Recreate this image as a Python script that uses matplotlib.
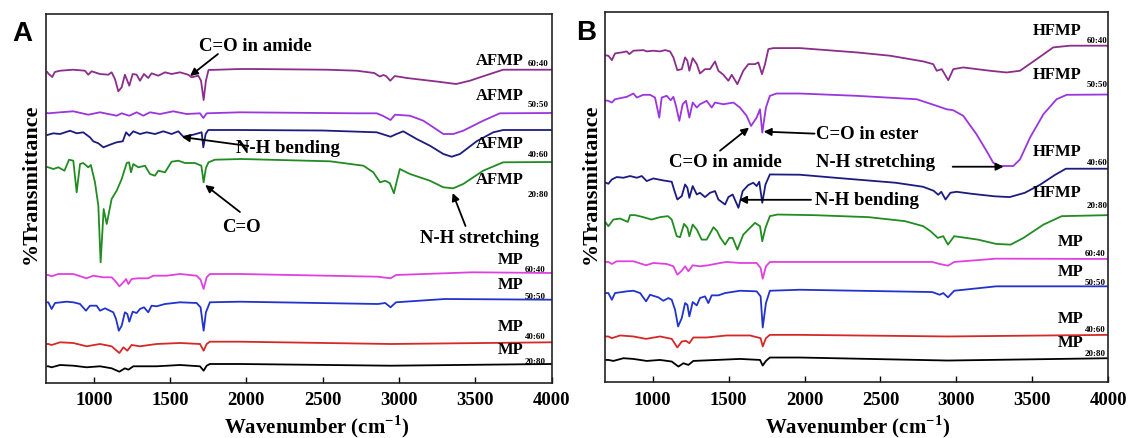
import matplotlib
matplotlib.use("Agg")
import matplotlib.pyplot as plt

plt.rcParams['font.family'] = ['Liberation Serif', 'DejaVu Serif']
plt.rcParams['font.weight'] = 'bold'
plt.rcParams['mathtext.fontset'] = 'custom'
plt.rcParams['mathtext.rm'] = 'Liberation Serif:bold'
plt.rcParams['mathtext.bf'] = 'Liberation Serif:bold'
plt.rcParams['axes.linewidth'] = 1.2

# ---- panel A : AFMP / MP spectra (wavenumber, offset transmittance) ----
a1_wn = [695, 705, 728, 745, 779, 866, 942, 964, 986, 1041, 1095, 1117, 1139, 1161, 1183, 1204, 1233, 1255, 1281,
         1303, 1329, 1357, 1379, 1423, 1467, 1510, 1565, 1619, 1641, 1685, 1703, 1720, 1735, 1752, 1958, 2052, 2529,
         2723, 2838, 2874, 2898, 2915, 2943, 2972, 3052, 3247, 3375, 3465, 3596, 3683, 4000]
a1_t = [311, 309, 306, 311, 312.3, 313.3, 312.3, 308.3, 311.7, 309, 308.3, 310.7, 304, 291.7, 295.7, 308.3, 297.3, 309,
        308.3, 302.3, 309, 305, 309.7, 307.3, 310.7, 309, 310.7, 308.3, 305.7, 307.3, 302.3, 283, 302.3, 313, 314, 314,
        313.3, 312.3, 310, 306.5, 308, 307, 302.3, 307, 305, 301.5, 299, 302.3, 309, 313.3, 313.3]

a2_wn = [695, 702, 779, 866, 964, 1041, 1150, 1183, 1233, 1281, 1325, 1368, 1434, 1521, 1608, 1696, 1718, 1740, 1958,
         2723, 2854, 2893, 2945, 2974, 3072, 3160, 3291, 3356, 3421, 3552, 3661, 4000]
a2_t = [270, 269.7, 270.7, 271.7, 268.3, 270.7, 267.3, 269.7, 267.3, 270.7, 267.3, 270.7, 269, 271.7, 269, 269.7, 265,
        269.7, 270.7, 269.7, 269.7, 267.3, 263, 268.3, 267.3, 262.3, 249, 249, 252.3, 262.3, 269.7, 270]

a3_wn = [695, 702, 735, 779, 844, 888, 931, 975, 997, 1030, 1063, 1106, 1150, 1190, 1212, 1233, 1259, 1303, 1347, 1401,
         1456, 1510, 1554, 1587, 1652, 1707, 1718, 1733, 1750, 1958, 2500, 2854, 2945, 2984, 3028, 3116, 3203, 3291,
         3345, 3400, 3509, 3618, 3683, 4000]
a3_t = [248, 248.3, 249.7, 249, 252.3, 249.7, 250.7, 245.7, 241.7, 239.7, 235.7, 238.3, 240.7, 241.7, 250.7, 247.3,
        251.7, 249, 250.7, 249, 251.7, 249, 251.7, 246.3, 248.3, 250.7, 235.7, 249, 253, 253, 252.5, 250.7, 246.3, 249,
        251.7, 244, 237.3, 229, 226.3, 229, 241.7, 250.7, 253, 253]

a4_wn = [695, 702, 735, 768, 808, 838, 866, 888, 910, 931, 964, 981, 1008, 1030, 1045, 1065, 1085, 1117, 1150, 1183,
         1216, 1231, 1244, 1259, 1292, 1336, 1368, 1401, 1423, 1467, 1510, 1554, 1598, 1663, 1705, 1720, 1735, 1752,
         1794, 1969, 2548, 2767, 2832, 2876, 2910, 2941, 2967, 2984, 3006, 3072, 3203, 3291, 3356, 3421, 3552, 3683,
         4000]
a4_t = [216, 215.7, 214, 215.7, 212.3, 223.3, 222.3, 190.7, 219, 220, 215.7, 218, 200.7, 177.3, 120.7, 174, 159, 184,
        192.3, 204, 220, 220.7, 210.7, 219, 215.7, 217.3, 209, 207.3, 212.3, 210.7, 221.3, 222.3, 220, 220, 217.3,
        200.7, 215, 220.7, 223.3, 224, 221.7, 217.3, 210.7, 200.7, 202.3, 199.7, 189.7, 200.7, 214, 209, 202.3, 195.7,
        194.7, 199, 212.3, 220.7, 221]

a5_wn = [695, 702, 724, 768, 866, 953, 997, 1063, 1117, 1139, 1168, 1194, 1212, 1227, 1248, 1292, 1357, 1390, 1477,
         1565, 1674, 1700, 1720, 1740, 1761, 1958, 2862, 2945, 2981, 3481, 4000]
a5_t = [108, 108, 106.7, 109, 109, 104.7, 107.3, 105.7, 105.7, 102.3, 96.7, 100.7, 104, 99, 104, 104.7, 104.7, 107.3,
        107.3, 109, 107.3, 103.3, 94, 105.7, 109, 109, 106.3, 104.7, 108, 110.7, 110]

a6_wn = [695, 702, 724, 746, 822, 866, 910, 949, 975, 1019, 1041, 1074, 1106, 1128, 1146, 1164, 1183, 1204, 1220, 1233,
         1255, 1281, 1303, 1329, 1357, 1379, 1412, 1467, 1565, 1674, 1700, 1720, 1735, 1761, 1958, 2862, 2910, 2945,
         2981, 3300, 4000]
a6_t = [80.7, 80.7, 74, 80, 81.3, 80.7, 79, 72.3, 77.3, 77.3, 72.3, 74.7, 72.3, 70.7, 64, 52.3, 57.3, 70.7, 69, 61.3,
        71.3, 70, 74, 75.7, 70.7, 77.3, 76.7, 79, 80.7, 80, 75.7, 52.3, 70.7, 80.7, 81.3, 79, 80, 75.7, 80.7, 84, 83.3]

a7_wn = [695, 702, 724, 779, 866, 953, 1041, 1117, 1150, 1168, 1194, 1220, 1248, 1303, 1412, 1565, 1696, 1720, 1740,
         1761, 1958, 2945, 4000]
a7_t = [39, 39, 38, 40.7, 40, 36.7, 39, 36.7, 32.3, 30, 35.7, 32.3, 38, 36.7, 39, 40, 39, 32.3, 39, 41.3, 41.3, 39,
        40.7]

a8_wn = [695, 702, 724, 779, 866, 953, 1041, 1117, 1168, 1204, 1227, 1259, 1412, 1565, 1696, 1720, 1740, 1761, 1958,
         2945, 4000]
a8_t = [16.7, 16.7, 15.7, 18, 17.3, 15.7, 16.7, 14.7, 11.3, 14.7, 13.3, 16.7, 16.7, 18, 16.7, 12.3, 17.3, 19, 19, 17.3,
        19]

# ---- panel B : HFMP / MP spectra ----
b1_wn = [693, 709, 732, 753, 797, 830, 847, 874, 939, 962, 1005, 1049, 1082, 1115, 1137, 1163, 1192, 1214, 1229, 1242,
         1264, 1291, 1312, 1345, 1378, 1411, 1433, 1466, 1499, 1521, 1558, 1597, 1630, 1674, 1696, 1720, 1740, 1762,
         1795, 1970, 2343, 2563, 2782, 2847, 2870, 2903, 2946, 2979, 3045, 3220, 3330, 3418, 3528, 3637, 3747, 4000]
b1_t = [326, 325.7, 321.3, 328, 329, 330, 327.3, 330.7, 331.3, 330, 330.7, 330, 331.3, 330, 324, 311.3, 312.3, 324,
        320.7, 310.7, 323.3, 317.3, 308, 312.3, 312.3, 320, 310.7, 306.7, 300.7, 306.7, 297.3, 310.7, 317.3, 317.3, 319,
        307.3, 317.3, 332.3, 333.3, 333.3, 329, 325.7, 320, 317.3, 310.7, 312.3, 301.3, 312.3, 314, 310.7, 309, 310.7,
        322.3, 334, 335.7, 335.7]

b2_wn = [693, 709, 732, 753, 830, 874, 896, 939, 983, 1016, 1044, 1060, 1093, 1119, 1137, 1154, 1176, 1198, 1220, 1242,
         1264, 1291, 1312, 1356, 1389, 1411, 1466, 1532, 1575, 1619, 1648, 1685, 1707, 1722, 1746, 1772, 1816, 1970,
         2343, 2738, 2870, 2935, 2979, 3045, 3132, 3198, 3242, 3275, 3374, 3418, 3484, 3572, 3659, 3725, 4000]
b2_t = [281, 280.7, 279, 282.3, 284.7, 288, 284, 286.7, 286.7, 284, 264, 284, 285.7, 281.3, 284.7, 275.7, 260.7, 277.3,
        280.7, 264, 279, 274, 277.3, 280.7, 274, 279, 277.3, 279, 274, 265.7, 255.7, 264, 272.3, 249, 274, 285.7, 288,
        288, 285.7, 282.3, 275.7, 272.3, 271.3, 265.7, 247.3, 230.7, 219, 215.7, 215.7, 222.3, 244, 267.3, 282.3, 286.7,
        287]

b3_wn = [693, 709, 732, 764, 808, 852, 896, 929, 961, 1005, 1071, 1126, 1141, 1163, 1192, 1214, 1229, 1242, 1264, 1291,
         1312, 1345, 1378, 1411, 1433, 1477, 1499, 1527, 1565, 1593, 1630, 1663, 1685, 1702, 1722, 1743, 1772, 1970,
         2200, 2600, 2780, 2850, 2880, 2900, 2928, 2960, 3000, 3100, 3250, 3350, 3450, 3550, 3650, 3720, 4000]
b3_t = [199, 198, 202.3, 204.7, 204, 205.7, 204, 205.7, 200.7, 203.3, 201.3, 200, 192.3, 182.3, 185.7, 197.3, 194, 184,
        195.7, 187.3, 189, 184.7, 189, 190.7, 182.3, 177.3, 184.7, 187.3, 174, 190.7, 196.7, 199, 195.7, 200, 179,
        197.3, 207.3, 207, 204, 199, 195, 191, 187, 190, 182.3, 189, 190, 188, 185.5, 184.7, 189, 197, 207, 213, 213]

b4_wn = [693, 709, 742, 786, 837, 852, 885, 939, 993, 1049, 1101, 1126, 1159, 1181, 1207, 1229, 1242, 1264, 1291, 1323,
         1356, 1401, 1425, 1444, 1477, 1505, 1527, 1558, 1597, 1630, 1674, 1707, 1722, 1743, 1772, 1821, 2061, 2421,
         2661, 2781, 2829, 2877, 2913, 2944, 2985, 3141, 3261, 3357, 3441, 3573, 3693, 4000]
b4_t = [159, 155.7, 162.3, 163.3, 160, 166.7, 166.7, 164.7, 162.3, 164.7, 165.7, 162.3, 145.7, 144.7, 158, 154, 145.7,
        157.3, 152.3, 142.3, 142.3, 154.7, 150.7, 144.7, 137.3, 144, 144, 132.3, 147.3, 152.3, 159, 155.7, 140.7, 154,
        165.7, 167.3, 166.7, 164.7, 160.7, 155.7, 150.7, 144, 145.7, 137.3, 145.7, 142.3, 138, 137.3, 144, 157.3, 165.7,
        166.7]

b5_wn = [693, 709, 732, 764, 874, 957, 1005, 1093, 1137, 1163, 1192, 1214, 1236, 1264, 1312, 1367, 1444, 1488, 1575,
         1685, 1711, 1725, 1746, 1772, 1970, 2841, 2889, 2944, 2985, 3261, 4000]
b5_t = [120, 120, 118, 120.7, 120.7, 116.7, 119, 118, 115.7, 107.3, 111.3, 115.7, 110.7, 116.7, 115.7, 116.7, 119, 120,
        119, 119, 114, 103.3, 115.7, 120, 120, 120, 118, 116.3, 120, 123.3, 123]

b6_wn = [693, 709, 732, 753, 830, 874, 918, 957, 983, 1038, 1071, 1104, 1126, 1148, 1168, 1192, 1214, 1229, 1242, 1264,
         1291, 1312, 1345, 1367, 1389, 1433, 1477, 1575, 1685, 1711, 1725, 1746, 1772, 1970, 2841, 2889, 2913, 2944,
         2985, 3261, 4000]
b6_t = [89, 89, 82.3, 89, 90.7, 91.3, 89, 80.7, 87.3, 84.7, 81.3, 84, 82.3, 72.3, 55.7, 64, 79, 77.3, 65.7, 80, 76.7,
        84, 85.7, 79, 86.7, 86.7, 89, 91.3, 90.7, 85.7, 54.7, 79, 91.3, 92.3, 90, 87.3, 89, 84.7, 91.3, 95.7, 95.7]

b7_wn = [693, 709, 732, 786, 874, 957, 1049, 1126, 1163, 1192, 1220, 1242, 1268, 1356, 1488, 1641, 1711, 1725, 1746,
         1772, 1970, 2944, 4000]
b7_t = [45.7, 45.7, 44, 46.7, 45.7, 43.3, 45.7, 43.3, 34.7, 40.7, 41.3, 39, 44.7, 44.7, 46.7, 46.7, 44, 35.7, 44, 47.3,
        47.3, 45.7, 47.3]

b8_wn = [693, 709, 742, 808, 874, 961, 1049, 1126, 1170, 1203, 1236, 1268, 1422, 1575, 1707, 1725, 1746, 1772, 1970,
         2944, 4000]
b8_t = [22.3, 22.3, 21.3, 24, 23.3, 21.3, 22.3, 20.7, 15.7, 19, 17.3, 21.3, 22.3, 23.3, 22.3, 16.7, 21.3, 24.7, 24.7,
        21.7, 24]

ratios = ['60:40', '50:50', '40:60', '20:80', '60:40', '50:50', '40:60', '20:80']
a_names = ['AFMP'] * 4 + ['MP'] * 4
b_names = ['HFMP'] * 4 + ['MP'] * 4
colors = ['#8B2D8B', '#9B35DD', '#1C1C80', '#228B22', '#E040E0', '#2233CC', '#D62828', 'black']

a_curves = [(a1_wn, a1_t), (a2_wn, a2_t), (a3_wn, a3_t), (a4_wn, a4_t),
            (a5_wn, a5_t), (a6_wn, a6_t), (a7_wn, a7_t), (a8_wn, a8_t)]
b_curves = [(b1_wn, b1_t), (b2_wn, b2_t), (b3_wn, b3_t), (b4_wn, b4_t),
            (b5_wn, b5_t), (b6_wn, b6_t), (b7_wn, b7_t), (b8_wn, b8_t)]

# label placement (main text x, y ; subscript x, y) in data units
a_lab_pos = [(3505, 322.7, 3845, 320), (3505, 288, 3845, 279.3), (3505, 240, 3845, 229), (3505, 204, 3845, 189),
             (3646, 124, 3823, 114), (3646, 99, 3823, 87.3), (3646, 57.3, 3823, 46.7), (3646, 34, 3823, 22.3)]
b_lab_pos = [(3502, 351.5, 3859, 341), (3502, 307.3, 3859, 297), (3502, 231, 3859, 220), (3502, 190, 3859, 177),
             (3664, 140.7, 3845, 129), (3664, 111.3, 3845, 100), (3664, 64, 3845, 53.3), (3664, 40, 3845, 29)]

fig = plt.figure(figsize=(11.33, 4.39), dpi=100)
axA = fig.add_axes([0.0410, 0.1253, 0.4458, 0.8405])
axB = fig.add_axes([0.5344, 0.1269, 0.4439, 0.8428])


def draw_panel(ax, curves, names, lab_pos):
    for (wn, t), c in zip(curves, colors):
        ax.plot(wn, t, color=c, lw=1.3)
    for name, r, (mx, my, sx, sy) in zip(names, ratios, lab_pos):
        ax.text(mx, my, name, fontsize=12, fontweight='bold', ha='left', va='center')
        ax.text(sx, sy, r, fontsize=6.5, fontweight='bold', ha='left', va='center')
    ax.set_xlim(690, 4000)
    ax.set_ylim(0, 369)
    ax.set_xticks([1000, 1500, 2000, 2500, 3000, 3500, 4000])
    ax.set_yticks([])
    ax.tick_params(axis='x', direction='in', length=4, width=1, pad=6, labelsize=13.5)
    for lab in ax.get_xticklabels():
        lab.set_fontweight('bold')
    for s in ax.spines.values():
        s.set_color('#222222')


def arrow(ax, head, tail):
    ax.annotate('', xy=head, xytext=tail,
                arrowprops=dict(arrowstyle='-|>', color='black', lw=1.3, mutation_scale=11,
                                shrinkA=0, shrinkB=0))


draw_panel(axA, a_curves, a_names, a_lab_pos)
draw_panel(axB, b_curves, b_names, b_lab_pos)

fs = 13.5
# panel A annotations
axA.text(2056, 338, 'C=O in amide', fontsize=fs, ha='center', va='center')
arrow(axA, (1631, 307), (1814, 329))
axA.text(1932, 236, 'N-H bending', fontsize=fs, ha='left', va='center')
arrow(axA, (1578, 246), (2013, 237))
axA.text(1968, 157, 'C=O', fontsize=fs, ha='center', va='center')
arrow(axA, (1730, 198), (1958, 171))
axA.text(3531, 146, 'N-H stretching', fontsize=fs, ha='center', va='center')
arrow(axA, (3352, 190), (3436, 157))

# panel B annotations
axB.text(2076, 248, 'C=O in ester', fontsize=fs, ha='left', va='center')
arrow(axB, (1731, 250), (2066, 248))
axB.text(1480, 220, 'C=O in amide', fontsize=fs, ha='center', va='center')
arrow(axB, (1635, 254), (1444, 231))
axB.text(2467, 220, 'N-H stretching', fontsize=fs, ha='center', va='center')
arrow(axB, (3310, 215), (2975, 215))
axB.text(2066, 182, 'N-H bending', fontsize=fs, ha='left', va='center')
arrow(axB, (1569, 182), (2043, 182))

# axis titles and panel letters
for xc in (31, 591):
    fig.text(xc / 1133, 1 - 183.5 / 439, '%Transmittance', rotation=90, fontsize=16,
             fontweight='bold', ha='center', va='center')
for xc in (317, 858):
    fig.text(xc / 1133, 1 - 427 / 439, r'Wavenumber (cm$^{\mathbf{-1}}$)', fontsize=15,
             fontweight='bold', ha='center', va='center')
fig.text(22 / 1133, 1 - 34 / 439, 'A', family='Liberation Sans', fontsize=20, fontweight='bold',
         ha='center', va='center')
fig.text(586 / 1133, 1 - 33 / 439, 'B', family='Liberation Sans', fontsize=20, fontweight='bold',
         ha='center', va='center')

fig.savefig('out.png', dpi=100)
